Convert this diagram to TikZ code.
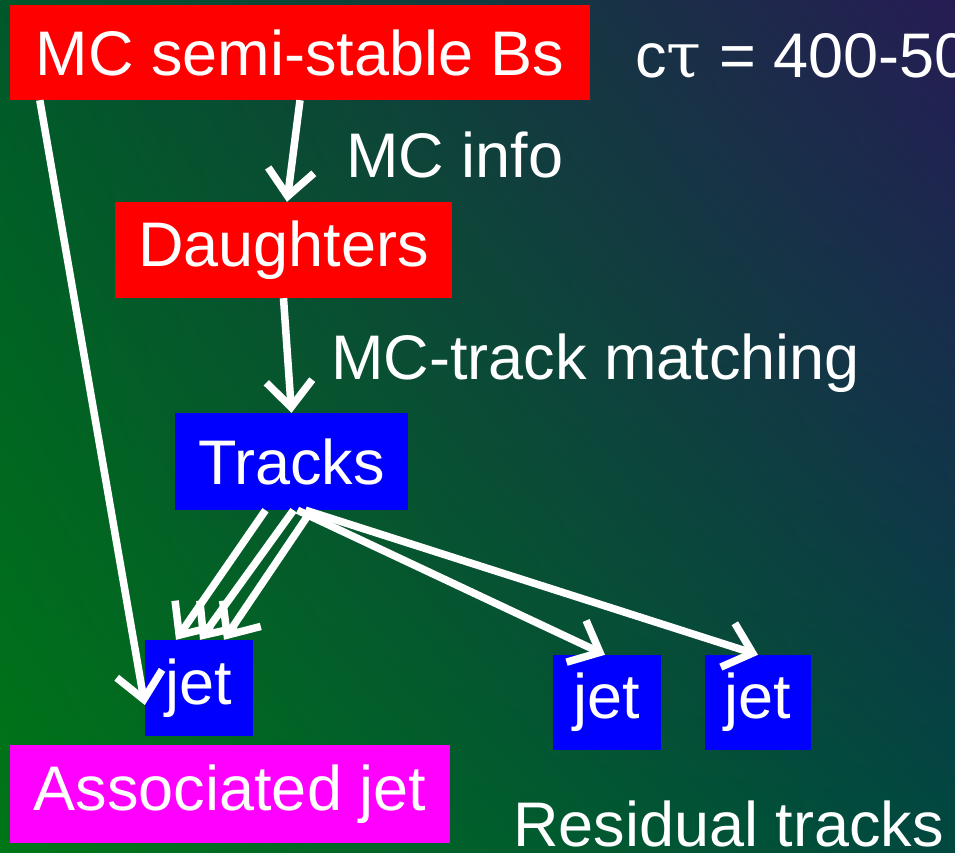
\documentclass[tikz,border=0pt]{standalone}
\usepackage{fontspec}
\setmainfont{Liberation Sans}
\newfontfamily\greekserif{DejaVu Serif}
\usetikzlibrary{arrows.meta}
\usetikzlibrary{shadings}

\definecolor{bgtl}{RGB}{0,88,42}
\definecolor{bgtr}{RGB}{38,28,84}
\definecolor{bgbl}{RGB}{0,118,22}
\definecolor{bgbr}{RGB}{0,72,64}
\definecolor{boxred}{RGB}{255,0,0}
\definecolor{boxblue}{RGB}{0,0,255}
\definecolor{boxmag}{RGB}{255,0,255}

\tikzset{
  box/.style={inner sep=0pt, text=white, font=\fontsize{63}{70}\selectfont},
  lbl/.style={inner sep=0pt, text=white, font=\fontsize{63}{70}\selectfont},
  arr/.style={white, line width=7.5pt, -{Straight Barb[length=26pt,width=46pt]}}
}

\begin{document}
\begin{tikzpicture}[x=1pt,y=-1pt]
                \useasboundingbox (0,0) rectangle (955,852);
                \clip (0,0) rectangle (955,852);
                \shade[upper left=bgtl, upper right=bgtr, lower left=bgbl, lower right=bgbr]
                      (0,0) rectangle (955,852);

                % boxes
                \node[box, fill=boxred, minimum width=580pt, minimum height=95pt] (mcbs) at (300,52.5) {MC semi-stable Bs};
                \node[box, fill=boxred, minimum width=337pt, minimum height=96pt] (daughters) at (283.5,250) {Daughters};
                \node[box, fill=boxblue, minimum width=233pt, minimum height=97pt] (tracks) at (291.5,461.5) {Tracks};
                \node[box, fill=boxblue, minimum width=108pt, minimum height=96pt] (jetA) at (199,688) {jet};
                \node[box, fill=boxblue, minimum width=108pt, minimum height=95pt] (jetB) at (607,702.5) {jet};
                \node[box, fill=boxblue, minimum width=106pt, minimum height=95pt] (jetC) at (758,702.5) {jet};
                \node[box, fill=boxmag, minimum width=440pt, minimum height=98pt] (assoc) at (230,794) {Associated jet};

                % labels
                \node[lbl, anchor=base west] (ctau) at (635,77) {c{\greekserif τ} = 400-500 µm};
                \node[lbl, anchor=base west] (mcinfo) at (346,177) {MC info};
                \node[lbl, anchor=base west] (matching) at (331,379) {MC-track matching};
                \node[lbl, anchor=base west] (residual) at (513,846) {Residual tracks};

                % arrows
                \draw[arr] (mcbs.south) -- ([xshift=3.5pt]daughters.north);
                \draw[arr] (daughters.south) -- (tracks.north);
                \draw[arr] ([xshift=30pt]mcbs.south west) -- ([yshift=-17pt]jetA.west);

                \draw[arr] ([xshift=-26pt]tracks.south) -- ([xshift=-23pt]jetA.north);
                \draw[arr] ([xshift=2pt]tracks.south) -- ([xshift=1pt]jetA.north);
                \draw[arr] ([xshift=20pt]tracks.south) -- ([xshift=25pt]jetA.north);

                \draw[arr] ([xshift=6pt]tracks.south) -- ([xshift=-2pt]jetB.north);
                \draw[arr] ([xshift=14pt]tracks.south) -- (jetC.north);
\end{tikzpicture}
\end{document}
